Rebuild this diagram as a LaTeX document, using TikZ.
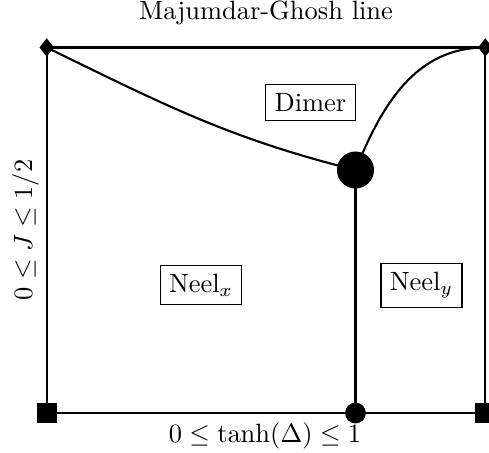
\documentclass[tikz,border=0pt]{standalone}
\usetikzlibrary{shapes.geometric}
\begin{document}
\begin{tikzpicture}[x=0.3783pt,y=0.3783pt,
  phase/.style={line width=0.8pt},
  dmark/.style={diamond,fill=black,inner sep=0pt,minimum width=5.6pt,minimum height=7.2pt,shape aspect=0.78},
  smark/.style={rectangle,fill=black,inner sep=0pt,minimum size=7.6pt},
  cmark/.style={circle,fill=black,inner sep=0pt,minimum size=#1},
  label box/.style={draw,line width=0.4pt,inner sep=3.33pt}]
\useasboundingbox (0,0) rectangle (489,453);
% markers (y measured upward: y = 453 - pixel row)
\node[dmark] (tl) at (46.7,405.5) {};
\node[dmark] (tr) at (485.3,405.5) {};
\node[smark] (bl) at (46.7,40) {};
\node[smark] (br) at (485.3,40) {};
\node[cmark=7.9pt] (bm) at (355.5,40) {};
\node[cmark=14pt] (mc) at (355.5,283) {};
% phase boundaries
\draw[phase] (tl.center) -- (tr.center) -- (br.center) -- (bl.center) -- cycle;
\draw[phase] (mc.center) -- (bm.center);
\draw[phase] (tl.center) to[out=-26,in=166] (mc.center);
\draw[phase] (mc.center) to[out=68,in=180] (tr.center);
% labels
\node[anchor=base] (title) at (266,434) {Majumdar-Ghosh line};
\node[anchor=base] (xlab) at (265,10) {$0\leq\tanh(\Delta)\leq 1$};
\node[anchor=base,rotate=90] (ylab) at (32,223) {$0\leq J\leq 1/2$};
\node[label box] (dimer) at (310.5,350.5) {Dimer};
\node[label box] (neelx) at (201,168) {Neel$_x$};
\node[label box] (neely) at (421.5,167.5) {Neel$_y$};
\end{tikzpicture}
\end{document}
